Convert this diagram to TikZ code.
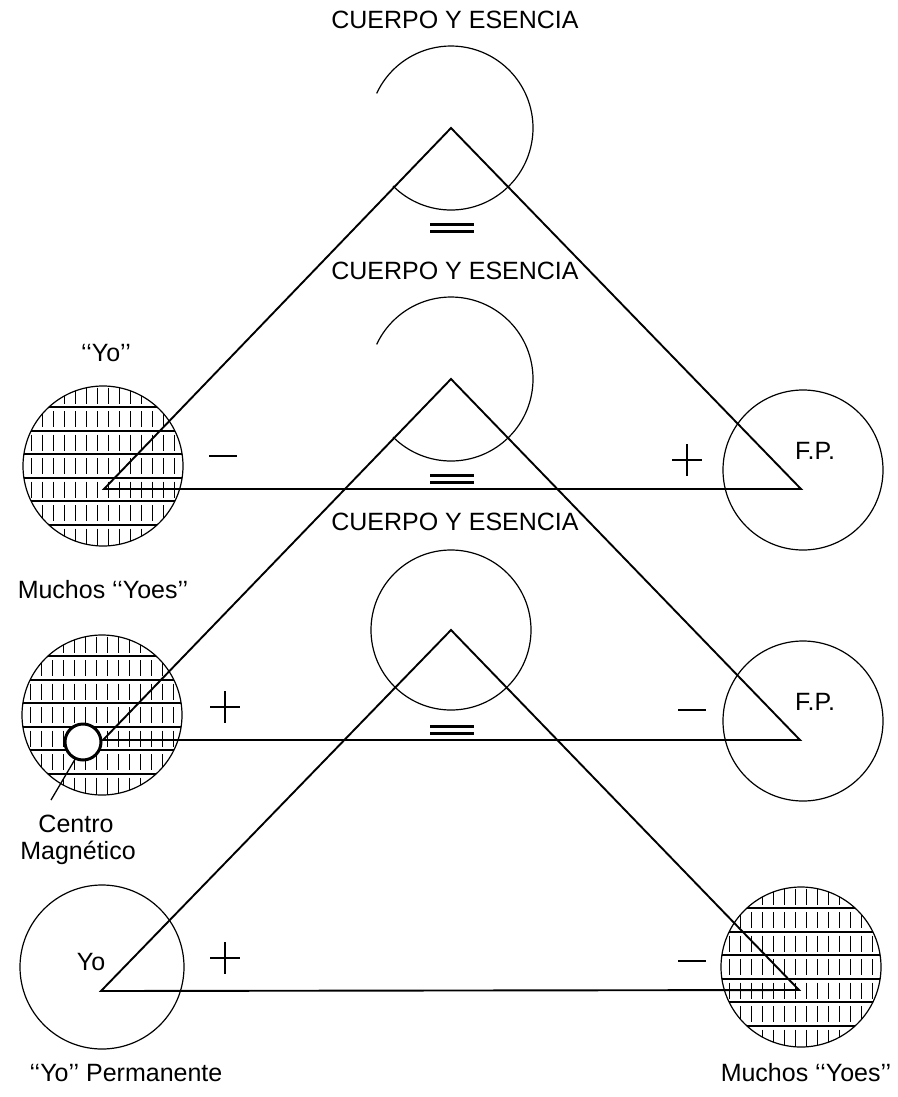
\documentclass[tikz,border=0pt]{standalone}
\usepackage{fontspec}
\setmainfont{Liberation Sans}
\tikzset{
  lbl/.style={font=\fontsize{25}{29}\selectfont, inner sep=0pt},
  tri/.style={line width=1.9pt, line join=miter},
  ring/.style={line width=1.2pt},
  hline/.style={line width=1.8pt},
  vtick/.style={line width=1.3pt},
  sign/.style={line width=2.5pt},
}
\newcommand{\hatchdisk}[2]{%
  \begin{scope}[shift={(#1,#2)}]
    \begin{scope}
      \clip (0,0) circle (80);
      \foreach \k in {-2.5,-1.5,-0.5,0.5,1.5,2.5} {\draw[hline] (-90,\k*23.5) -- (90,\k*23.5);}
      \foreach \b in {-3,...,3} {\foreach \c in {-8,...,7} {\draw[vtick] (\c*11+5.5,\b*23.5-8) -- (\c*11+5.5,\b*23.5+8);}}
    \end{scope}
    \draw[ring] (0,0) circle (80);
  \end{scope}}
\newcommand{\plussign}[2]{\draw[sign] (#1-15,#2) -- (#1+15,#2); \draw[sign] (#1,#2-16) -- (#1,#2+16);}
\newcommand{\minussign}[2]{\draw[sign] (#1-14,#2) -- (#1+14,#2);}
\newcommand{\eqsign}[2]{\draw[sign] (#1-22,#2-3.5) -- (#1+22,#2-3.5); \draw[sign] (#1-22,#2+3.5) -- (#1+22,#2+3.5);}
\begin{document}
\begin{tikzpicture}[x=1pt,y=-1pt]
\useasboundingbox (0,0) rectangle (897,1097);
\fill[white] (0,0) rectangle (897,1097);

% hatched disks
\hatchdisk{103}{466}
\hatchdisk{102}{715}
\hatchdisk{801}{967}

% plain rings at vertices
\draw[ring] (803,470) circle (80);
\draw[ring] (803,721) circle (80);
\draw[ring] (102,967) circle (82);

% rings at apexes
\draw[ring] (451,128) ++(135:82) arc[start angle=135, end angle=-155, radius=82];
\draw[ring] (451,379) ++(135:82) arc[start angle=135, end angle=-155, radius=82];
\draw[ring] (451,630) circle (80);

% triangles
\coordinate (A1) at (451,128); \coordinate (L1) at (104,489); \coordinate (R1) at (801,489);
\coordinate (A2) at (451,379); \coordinate (L2) at (103,740); \coordinate (R2) at (800,740);
\coordinate (A3) at (451,630); \coordinate (L3) at (101,991); \coordinate (R3) at (799,990);
\draw[tri] (A1) -- (L1) -- (R1) -- cycle;
\draw[tri] (A2) -- (L2) -- (R2) -- cycle;
\draw[tri] (A3) -- (L3) -- (R3) -- cycle;

% magnetic centre
\node[circle, draw, line width=3pt, fill=white, minimum size=36pt, inner sep=0pt] (cm) at (83,742) {};
\coordinate (cmtip) at (51,800);
\draw[line width=1.3pt] (cm.245) -- (cmtip);

% signs
\minussign{223}{456} \plussign{687}{460}
\plussign{225}{707} \minussign{692}{710}
\plussign{225}{958} \minussign{692}{961}
\eqsign{452}{228} \eqsign{452}{479} \eqsign{452}{730}

% labels
\node[lbl] (ce1) at (455,20) {CUERPO Y ESENCIA};
\node[lbl] (ce2) at (455,271) {CUERPO Y ESENCIA};
\node[lbl] (ce3) at (455,522) {CUERPO Y ESENCIA};
\node[lbl] (yoq) at (106,353) {‘‘Yo’’};
\node[lbl] (my1) at (103,590) {Muchos ‘‘Yoes’’};
\node[lbl] (cen) at (76,824) {Centro};
\node[lbl] (mag) at (78,853) {Magnético};
\node[lbl] (yo) at (91,962) {Yo};
\node[lbl] (yop) at (126,1073) {‘‘Yo’’ Permanente};
\node[lbl] (my2) at (806,1073) {Muchos ‘‘Yoes’’};
\node[lbl] (fp1) at (815,451) {F.P.};
\node[lbl] (fp2) at (815,702) {F.P.};
\end{tikzpicture}
\end{document}
